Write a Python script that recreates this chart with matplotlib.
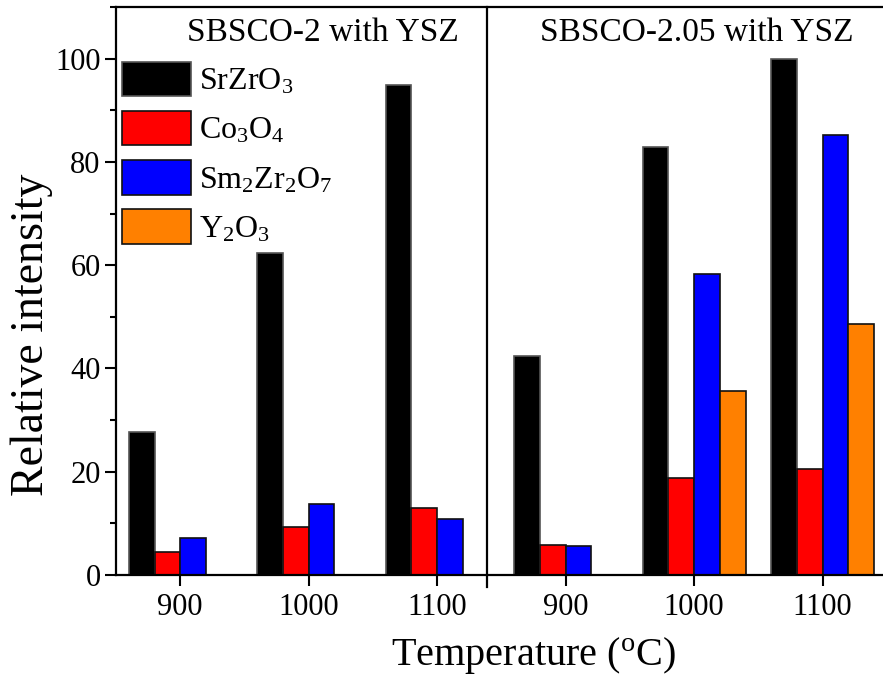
import numpy as np
import matplotlib
matplotlib.use("Agg")
import matplotlib.pyplot as plt
from matplotlib.ticker import MultipleLocator

plt.rcParams['font.family'] = 'Liberation Serif'
plt.rcParams['mathtext.fontset'] = 'custom'
plt.rcParams['mathtext.rm'] = 'Liberation Serif'
plt.rcParams['mathtext.it'] = 'Liberation Serif:italic'

temps = ['900', '1000', '1100']
phases = ['SrZrO$_3$', 'Co$_3$O$_4$', 'Sm$_2$Zr$_2$O$_7$', 'Y$_2$O$_3$']
colors = ['#000000', '#ff0000', '#0000ff', '#ff8000']

# SBSCO-2 with YSZ
srzro3_a = [27.7, 62.3, 94.8]
co3o4_a = [4.5, 9.2, 12.9]
sm2zr2o7_a = [7.1, 13.8, 10.9]
y2o3_a = [np.nan, np.nan, np.nan]

# SBSCO-2.05 with YSZ
srzro3_b = [42.5, 82.8, 100.0]
co3o4_b = [5.9, 18.7, 20.6]
sm2zr2o7_b = [5.7, 58.2, 85.2]
y2o3_b = [np.nan, 35.6, 48.7]

fig = plt.figure(figsize=(8.83, 6.86), dpi=100)
ax = fig.add_axes([116/883, 1 - 575/686, 1 - 116/883, (575 - 7)/686])

w = 0.2
offsets = [-0.3, -0.1, 0.1, 0.3]
xa = np.arange(3)
xb = np.arange(3) + 3

handles = []
for vals_a, vals_b, off, c, lab in zip(
        [srzro3_a, co3o4_a, sm2zr2o7_a, y2o3_a],
        [srzro3_b, co3o4_b, sm2zr2o7_b, y2o3_b],
        offsets, colors, phases):
    ec = '#555555' if c == '#000000' else '#111111'
    ax.bar(xa + off, vals_a, w, color=c, edgecolor=ec, linewidth=1.2)
    h = ax.bar(xb + off, vals_b, w, color=c, edgecolor=ec, linewidth=1.2, label=lab)
    handles.append(h)

# divider between the two sample sets, running through the axis like a tick
ax.plot([2.39, 2.39], [-2.3, 110], color='black', lw=1.6, clip_on=False)

ax.set_xlim(-0.5, 5.47)
ax.set_ylim(0, 110)
ax.set_xticks(np.arange(6))
ax.set_xticklabels(temps + temps)
ax.yaxis.set_major_locator(MultipleLocator(20))
ax.yaxis.set_minor_locator(MultipleLocator(10))
ax.tick_params(axis='both', which='major', direction='out', length=8, width=1.5, labelsize=22)
ax.tick_params(axis='y', which='major', pad=3)
ax.tick_params(axis='x', which='major', pad=5)
ax.tick_params(axis='y', which='minor', direction='out', length=4.5, width=1.5)
ax.spines['right'].set_visible(False)
for s in ['left', 'bottom', 'top']:
    ax.spines[s].set_linewidth(1.6)

ax.text(1.11, 0.955, 'SBSCO-2 with YSZ', transform=ax.get_xaxis_transform(),
        ha='center', va='center', fontsize=24)
ax.text(4.02, 0.955, 'SBSCO-2.05 with YSZ', transform=ax.get_xaxis_transform(),
        ha='center', va='center', fontsize=24)

ax.legend(handles=handles, loc='upper left', bbox_to_anchor=(0.008, 0.904),
          frameon=False, fontsize=23, handlelength=2.15, handleheight=1.28,
          handletextpad=0.25, labelspacing=0.45, borderpad=0, borderaxespad=0)

fig.text(32/883, 1 - 335/686, 'Relative intensity', rotation=90,
         ha='center', va='center', fontsize=33)
fig.text(533/883, 1 - 655/686, 'Temperature ($^{\\mathrm{o}}$C)',
         ha='center', va='center', fontsize=29)

fig.savefig('out.png', dpi=100)
